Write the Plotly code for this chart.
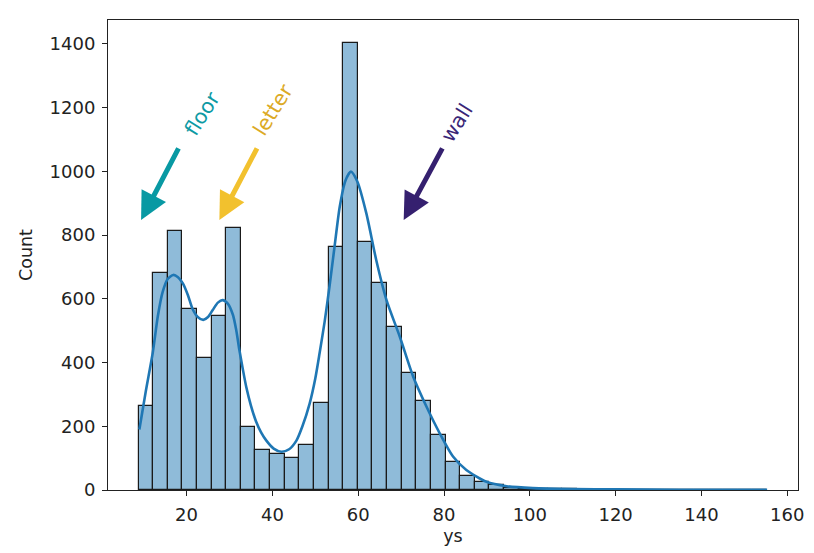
import numpy as np
import plotly.graph_objects as go

# ---- data ----
data_min = 8.8
data_max = 155.3
n_bins = 43
counts = [264, 682, 814, 567, 415, 547, 821, 199, 124, 112, 99, 140, 272, 762,
          1404, 778, 651, 511, 368, 280, 172, 88, 43, 24, 15, 7, 4, 3, 2, 2,
          1, 1, 1, 1, 0, 1, 0, 0, 1, 0, 0, 0, 1]

kde_x = [9.0, 10.5, 12.1, 13.3, 14.4, 15.6, 16.9, 18.0, 19.1, 20.3, 21.4, 22.6,
         23.9, 25.0, 26.1, 27.3, 28.4, 29.6, 30.8, 31.6, 32.3, 33.1, 33.9, 35.0,
         36.2, 37.4, 38.6, 40.3, 42.1, 43.9, 45.6, 47.0, 48.7, 50.0, 51.0, 52.2,
         53.3, 54.5, 55.7, 57.0, 58.3, 59.8, 61.9, 64.2, 66.6, 69.7, 72.8, 75.9,
         79.0, 82.1, 85.2, 89.9, 94.6, 100.7, 110.0, 120.0, 135.0, 155.3]
kde_y = [190, 310, 429, 545, 620, 662, 675, 668, 649, 612, 568, 543,
         534, 543, 565, 588, 596, 585, 550, 500, 440, 380, 324, 265,
         215, 180, 155, 130, 120, 128, 155, 200, 272, 350, 429, 530,
         638, 765, 889, 970, 999, 968, 868, 722, 596, 481, 356, 262,
         178, 105, 63, 26, 12, 6, 3, 2, 1, 0.5]

labels = ["floor", "letter", "wall"]
arrow_tip_x = [9.4, 27.65, 70.6]
arrow_tip_y = [847, 847, 847]
arrow_tail_x = [18.3, 36.6, 79.8]
arrow_tail_y = [1077, 1077, 1077]
label_x = [23.6, 40.1, 82.9]
label_y = [1180, 1193, 1153]
arrow_colors = ["#0899a3", "#f2c12e", "#35206f"]
text_colors = ["#0d9aa4", "#dcaa25", "#3a2677"]

# ---- figure ----
edges = np.linspace(data_min, data_max, n_bins + 1)
centers = (edges[:-1] + edges[1:]) / 2
width = edges[1] - edges[0]

fig = go.Figure()
fig.add_trace(go.Bar(
    x=centers, y=counts, width=width,
    marker=dict(color="rgba(31,119,180,0.5)",
                line=dict(color="#1a1a1a", width=1.2)),
    hoverinfo="x+y", showlegend=False,
))
fig.add_trace(go.Scatter(
    x=kde_x, y=kde_y, mode="lines",
    line=dict(color="#1f77b4", width=2.6, shape="spline", smoothing=0.7),
    showlegend=False,
))

annotations = []
for i in range(len(labels)):
    annotations.append(dict(
        x=arrow_tip_x[i], y=arrow_tip_y[i], ax=arrow_tail_x[i], ay=arrow_tail_y[i],
        xref="x", yref="y", axref="x", ayref="y", text="", showarrow=True,
        arrowhead=2, arrowsize=1.1, arrowwidth=5, arrowcolor=arrow_colors[i],
        standoff=0, startstandoff=0,
    ))
    annotations.append(dict(
        x=label_x[i], y=label_y[i], xref="x", yref="y", text=labels[i],
        showarrow=False, textangle=-58, xanchor="center", yanchor="middle",
        font=dict(family="DejaVu Sans", size=20.5, color=text_colors[i]),
    ))

axis_common = dict(
    showline=True, mirror=True, linecolor="#222222", linewidth=1.1,
    ticks="outside", ticklen=5, tickwidth=1.1, tickcolor="#222222",
    showgrid=False, zeroline=False, ticklabelstandoff=3, automargin=False,
    tickfont=dict(family="DejaVu Sans", size=18, color="#222222"),
)

# the page body adds an 8px offset, so the figure is 8px smaller and margins reduced
fig.update_layout(
    width=806, height=545,
    margin=dict(l=100, r=16, t=12, b=63),
    plot_bgcolor="white", paper_bgcolor="white",
    bargap=0,
    annotations=annotations,
    xaxis=dict(range=[1.69, 162.5], tickvals=[20, 40, 60, 80, 100, 120, 140, 160],
               title=dict(text="ys", standoff=6,
                          font=dict(family="DejaVu Sans", size=17.5, color="#222222")),
               **axis_common),
    yaxis=dict(range=[0, 1475], tickvals=[0, 200, 400, 600, 800, 1000, 1200, 1400],
               title=dict(text="Count", standoff=12,
                          font=dict(family="DejaVu Sans", size=17.5, color="#222222")),
               **axis_common),
)

fig.write_html("out.html")
